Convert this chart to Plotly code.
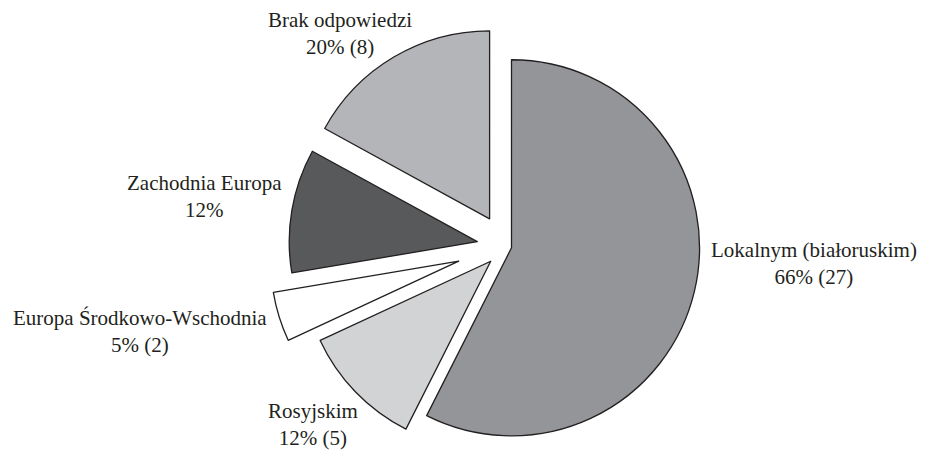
import plotly.graph_objects as go

# ---- data ----
categories = ["Lokalnym (białoruskim)", "Rosyjskim", "Europa Środkowo-Wschodnia",
              "Zachodnia Europa", "Brak odpowiedzi"]
counts = [27, 5, 2, 5, 8]
share_labels = ["66% (27)", "12% (5)", "5% (2)", "12%", "20% (8)"]

# ---- style ----
colors = ["#939598", "#d1d3d4", "#ffffff", "#58595b", "#b3b5b8"]
pulls = [0.03, 0.113, 0.263, 0.155, 0.171]
# label centres in page pixels
label_px = [(814, 263), (313, 424), (140, 331), (204, 197), (340, 34)]

PAGE_OFF = 8            # default body margin of the html page
W, H, T = 929, 476, 1


def to_paper(x, y):
    return (x - PAGE_OFF) / W, 1 - (y - PAGE_OFF - T) / (H - T)


cx_paper = (506 - PAGE_OFF) / W

fig = go.Figure(go.Pie(
    values=counts,
    labels=categories,
    sort=False,
    direction="clockwise",
    rotation=0,
    pull=pulls,
    marker=dict(colors=colors, line=dict(color="#231f20", width=1.3)),
    textinfo="none",
    hoverinfo="label+value",
    domain=dict(x=[cx_paper - 0.336, cx_paper + 0.336], y=[0, 1]),
    showlegend=False,
))

for name, share, (lx, ly) in zip(categories, share_labels, label_px):
    xp, yp = to_paper(lx, ly)
    fig.add_annotation(
        x=xp, y=yp, xref="paper", yref="paper",
        text=f"{name}<br>{share}", showarrow=False,
        xanchor="center", yanchor="middle", align="center",
        font=dict(family="Liberation Serif, Times New Roman, serif", size=21, color="#231f20"),
    )

fig.update_layout(
    width=W, height=H,
    margin=dict(l=0, r=0, t=T, b=0),
    paper_bgcolor="white",
    plot_bgcolor="white",
)

fig.write_html("out.html")
